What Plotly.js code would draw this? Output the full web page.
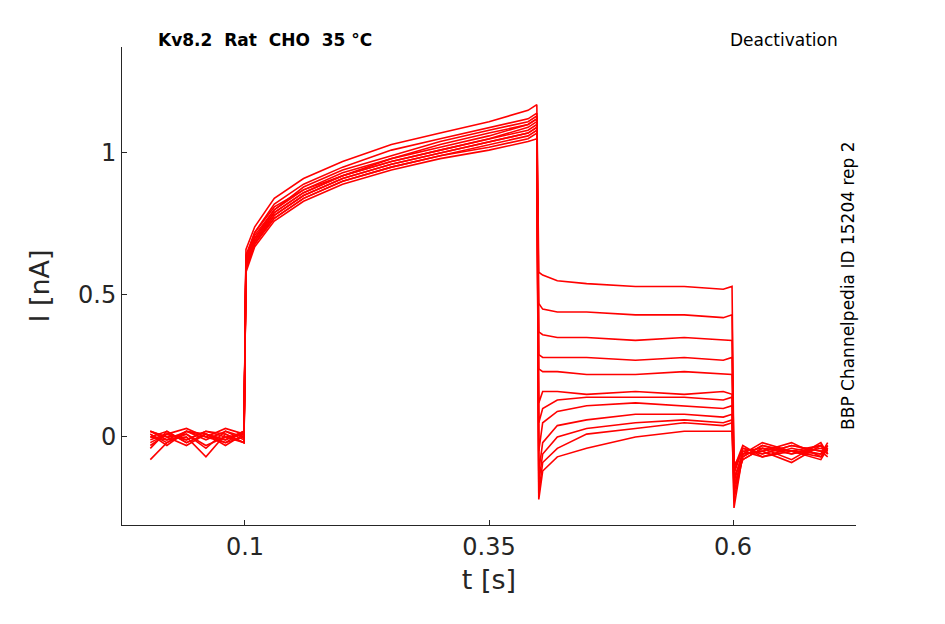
<!DOCTYPE html>
<html>
<head>
<meta charset="utf-8">
<script src="https://cdn.plot.ly/plotly-3.0.1.min.js"></script>
<style>body{margin:0;background:#fff}#plot{width:945px;height:624px}</style>
</head>
<body>
<div id="plot"></div>
<script>
'use strict';

// shared time grid [s]
const tGrid = [0.003,0.02,0.04,0.06,0.08,0.099,
    0.101,0.11,0.13,0.16,0.2,0.25,0.3,0.35,0.39,0.399,
    0.401,0.405,0.42,0.45,0.5,0.55,0.59,0.599,
    0.601,0.61,0.63,0.66,0.69,0.697];

// current traces [nA]
const trace01 = [0.01,-0.02,0.02,0.00,0.03,0.01, 0.66,0.74,0.84,0.91,0.97,1.03,1.07,1.11,1.15,1.17, 0.58,0.57,0.55,0.54,0.53,0.53,0.52,0.53, -0.12,-0.04,-0.06,-0.03,-0.05,-0.04];
const trace02 = [-0.03,0.01,-0.01,0.02,0.00,-0.02, 0.64,0.72,0.82,0.89,0.95,1.01,1.05,1.09,1.12,1.14, 0.47,0.45,0.44,0.44,0.43,0.43,0.42,0.43, -0.15,-0.06,-0.02,-0.05,-0.07,-0.03];
const trace03 = [0.02,0.00,-0.03,0.01,-0.01,0.02, 0.62,0.71,0.80,0.88,0.94,0.99,1.04,1.08,1.11,1.13, 0.37,0.36,0.35,0.35,0.34,0.35,0.34,0.34, -0.10,-0.05,-0.04,-0.08,-0.02,-0.06];
const trace04 = [-0.08,-0.02,0.01,-0.04,0.02,0.00, 0.63,0.72,0.81,0.87,0.92,0.98,1.02,1.06,1.10,1.12, 0.29,0.28,0.28,0.28,0.27,0.28,0.27,0.28, -0.18,-0.07,-0.03,-0.06,-0.04,-0.05];
const trace05 = [0.00,0.02,-0.02,0.01,-0.03,0.01, 0.61,0.70,0.79,0.86,0.92,0.97,1.01,1.05,1.08,1.10, 0.24,0.23,0.23,0.22,0.22,0.23,0.22,0.22, -0.11,-0.03,-0.07,-0.05,-0.03,-0.06];
const trace06 = [0.02,-0.01,0.00,-0.07,0.01,-0.02, 0.60,0.69,0.78,0.85,0.91,0.96,1.00,1.04,1.07,1.09, 0.12,0.16,0.16,0.15,0.16,0.15,0.16,0.15, -0.20,-0.06,-0.05,-0.02,-0.07,-0.04];
const trace07 = [-0.01,0.01,0.03,0.00,-0.02,0.02, 0.62,0.70,0.80,0.87,0.93,0.98,1.03,1.07,1.10,1.12, 0.05,0.10,0.13,0.14,0.14,0.14,0.13,0.14, -0.14,-0.08,-0.04,-0.06,-0.03,-0.05];
const trace08 = [0.01,-0.03,0.02,-0.01,0.02,-0.01, 0.59,0.68,0.77,0.84,0.90,0.95,0.99,1.02,1.05,1.07, -0.05,0.05,0.09,0.11,0.12,0.11,0.10,0.11, -0.16,-0.05,-0.07,-0.04,-0.06,-0.02];
const trace09 = [-0.02,0.01,-0.01,0.02,0.01,-0.02, 0.61,0.69,0.79,0.86,0.92,0.97,1.01,1.05,1.09,1.11, -0.12,-0.02,0.04,0.06,0.08,0.08,0.07,0.08, -0.22,-0.07,-0.03,-0.05,-0.08,-0.04];
const trace10 = [0.02,0.00,0.01,-0.03,0.00,0.01, 0.60,0.68,0.78,0.85,0.91,0.96,1.00,1.04,1.07,1.09, -0.16,-0.06,0.00,0.03,0.05,0.06,0.05,0.06, -0.13,-0.04,-0.06,-0.03,-0.05,-0.07];
const trace11 = [-0.04,0.02,-0.02,0.01,-0.01,0.02, 0.58,0.67,0.76,0.83,0.89,0.94,0.98,1.01,1.04,1.05, -0.20,-0.09,-0.04,0.01,0.03,0.05,0.04,0.05, -0.25,-0.06,-0.05,-0.09,-0.03,-0.06];
const trace12 = [0.00,-0.01,0.02,0.01,-0.02,0.00, 0.59,0.68,0.77,0.84,0.90,0.95,0.99,1.03,1.06,1.08, -0.22,-0.12,-0.07,-0.04,0.00,0.02,0.02,0.02, -0.17,-0.08,-0.04,-0.05,-0.06,-0.03];

const allTraces = [trace01,trace02,trace03,trace04,trace05,trace06,
                   trace07,trace08,trace09,trace10,trace11,trace12];

const xTicks = [0.1,0.35,0.6];
const yTicks = [0,0.5,1];

let data = allTraces.map(function(y){
    return {x:tGrid, y:y, type:'scatter', mode:'lines',
            line:{color:'#ff0000', width:1.6}, hoverinfo:'skip', showlegend:false};
});

let txt = '#262626';
let layout = {
    width:945, height:624,
    margin:{l:122, r:89, t:47, b:99},
    paper_bgcolor:'#fff', plot_bgcolor:'#fff',
    font:{family:'DejaVu Sans', color:txt},
    xaxis:{range:[-0.026,0.726], tickvals:xTicks, ticktext:['0.1','0.35','0.6'],
        showgrid:false, zeroline:false, showline:true, linecolor:txt, linewidth:1,
        ticks:'inside', ticklen:5, tickcolor:txt, tickfont:{size:24, color:txt},
        title:{text:'t [s]', font:{size:27, color:txt}, standoff:10}},
    yaxis:{range:[-0.31,1.373], tickvals:yTicks, ticktext:['0','0.5','1'],
        showgrid:false, zeroline:false, showline:true, linecolor:txt, linewidth:1,
        ticks:'inside', ticklen:5, tickcolor:txt, tickfont:{size:24, color:txt},
        title:{text:'I [nA]', font:{size:27, color:txt}, standoff:20}},
    annotations:[
        {text:'<b>Kv8.2  Rat  CHO  35 °C</b>', xref:'paper', yref:'paper', x:0.047, y:1.0,
         xanchor:'left', yanchor:'bottom', yshift:-5, showarrow:false, font:{size:17, color:'#000'}},
        {text:'Deactivation', xref:'paper', yref:'paper', x:0.978, y:1.0,
         xanchor:'right', yanchor:'bottom', yshift:-5, showarrow:false, font:{size:17, color:'#000'}},
        {text:'BBP Channelpedia ID 15204 rep 2', xref:'paper', yref:'paper', x:0.989, y:0.50,
         xanchor:'center', yanchor:'middle', textangle:-90, showarrow:false,
         font:{size:17, color:'#000'}}
    ]
};

Plotly.newPlot('plot', data, layout, {staticPlot:true});
</script>
</body>
</html>
